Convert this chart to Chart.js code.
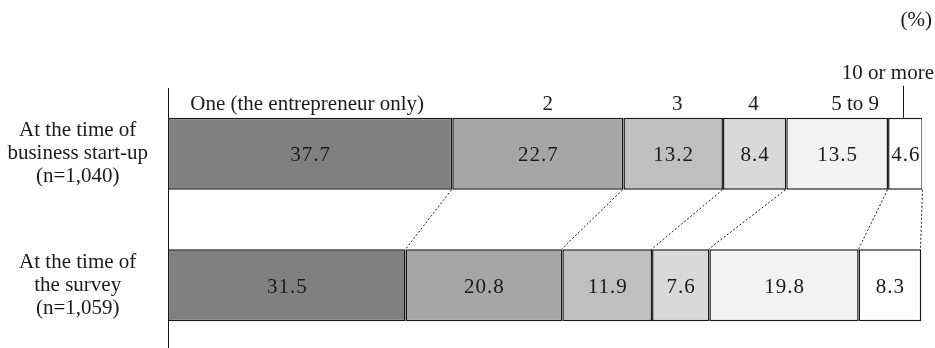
<!DOCTYPE html>
<html>
<head>
<meta charset="utf-8">
<script src="https://cdn.jsdelivr.net/npm/chart.js@4/dist/chart.umd.min.js"></script>
<style>
  html, body { margin: 0; padding: 0; background: #ffffff; overflow: hidden; }
  #wrap { width: 935px; height: 351px; position: relative; }
</style>
</head>
<body>
<div id="wrap"><canvas id="c"></canvas></div>
<script>
// Row labels (multi-line), employee-size classes and shares (%)
const periods = [
  ["At the time of", "business start-up", "(n=1,040)"],
  ["At the time of", "the survey", "(n=1,059)"]
];
const sizeClasses = ["One (the entrepreneur only)", "2", "3", "4", "5 to 9", "10 or more"];
const atStartUp = [37.7, 22.7, 13.2, 8.4, 13.5, 4.6];
const atSurvey = [31.5, 20.8, 11.9, 7.6, 19.8, 8.3];
const unitLabel = "(%)";

// Styling
const fills = ["#808080", "#a6a6a6", "#bfbfbf", "#d9d9d9", "#f2f2f2", "#ffffff"];
const headerNudge = [-3, 10, 4, -1, 18, -2];
const SERIF = "'Liberation Serif', 'Times New Roman', serif";
const FONT_PX = 21;
const INK = "#1a1a1a";

const datasets = sizeClasses.map((name, i) => ({
  label: name,
  data: [atStartUp[i], atSurvey[i]],
  backgroundColor: fills[i],
  borderColor: INK,
  borderWidth: 1.5,
  borderSkipped: false,
  categoryPercentage: 1,
  barPercentage: 0.548
}));

const annotate = {
  id: "annotate",
  afterDatasetsDraw(chart) {
    const ctx = chart.ctx;
    const n = chart.data.datasets.length;
    ctx.save();
    ctx.fillStyle = INK;
    ctx.font = FONT_PX + "px " + SERIF;

    // values inside each segment
    ctx.textAlign = "center";
    ctx.textBaseline = "middle";
    try { ctx.letterSpacing = "1px"; } catch (e) {}
    for (let d = 0; d < n; d++) {
      const meta = chart.getDatasetMeta(d);
      meta.data.forEach((el, j) => {
        const v = chart.data.datasets[d].data[j];
        const cx = (el.x + el.base) / 2;
        ctx.fillText(v.toFixed(1), cx + 0.5, el.y + 2);
      });
    }
    try { ctx.letterSpacing = "0px"; } catch (e) {}

    // dotted connectors between matching segment boundaries
    ctx.strokeStyle = INK;
    ctx.lineWidth = 1;
    ctx.setLineDash([2, 2]);
    for (let d = 0; d < n; d++) {
      const meta = chart.getDatasetMeta(d);
      const a = meta.data[0], b = meta.data[1];
      const x1 = Math.round(a.x) - 0.5, x2 = Math.round(b.x) - 0.5;
      ctx.beginPath();
      ctx.moveTo(x1, a.y + a.height / 2);
      ctx.lineTo(x2, b.y - b.height / 2);
      ctx.stroke();
    }
    ctx.setLineDash([]);

    // size-class headers above the first bar
    ctx.textBaseline = "alphabetic";
    for (let d = 0; d < n; d++) {
      const el = chart.getDatasetMeta(d).data[0];
      const cx = (el.x + el.base) / 2 + headerNudge[d];
      const top = el.y - el.height / 2;
      if (d === n - 1) {
        ctx.textAlign = "right";
        ctx.fillText(sizeClasses[d], chart.width - 1, top - 39);
        ctx.beginPath();
        ctx.moveTo(Math.round(cx) + 0.5, top - 32);
        ctx.lineTo(Math.round(cx) + 0.5, top);
        ctx.stroke();
      } else {
        ctx.textAlign = "center";
        ctx.fillText(sizeClasses[d], cx, top - 8);
      }
    }

    // unit note
    ctx.textAlign = "right";
    ctx.fillText(unitLabel, chart.width - 3, 26);
    ctx.restore();
  }
};

new Chart(document.getElementById("c"), {
  type: "bar",
  data: { labels: periods, datasets },
  options: {
    indexAxis: "y",
    responsive: true,
    maintainAspectRatio: false,
    animation: false,
    layout: { padding: { top: 88, right: 13, bottom: 0, left: 0 } },
    plugins: { legend: { display: false }, tooltip: { enabled: false } },
    scales: {
      x: { stacked: true, min: 0, max: 100, display: false },
      y: {
        stacked: true,
        afterFit(scale) {
          scale.width = 168;
          scale.paddingTop = 0;
          scale.paddingBottom = 0;
        },
        grid: { display: true, drawOnChartArea: false, drawTicks: false },
        border: { display: true, color: INK, width: 1 },
        ticks: {
          color: INK,
          crossAlign: "center",
          padding: 20,
          font: { family: SERIF, size: FONT_PX, lineHeight: 1.1 }
        }
      }
    }
  },
  plugins: [annotate]
});
</script>
</body>
</html>
